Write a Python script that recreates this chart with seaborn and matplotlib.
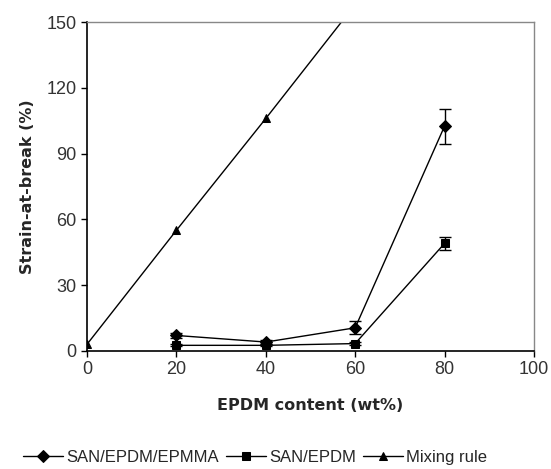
import numpy as np
import pandas as pd
import matplotlib
matplotlib.use("Agg")
import matplotlib.pyplot as plt
import seaborn as sns

# data
epdm = [20, 40, 60, 80]
epmma_vals = [7.0, 4.0, 10.5, 102.5]
epmma_err = [1.0, 1.0, 3.0, 8.0]
san_vals = [2.5, 2.5, 3.3, 49.0]
san_err = [0.5, 0.5, 0.5, 3.0]
mix_x = [0, 20, 40, 60, 80, 100]
mix_vals = [3, 55, 106, 158, 210, 262]
x_ticks = [0, 20, 40, 60, 80, 100]
y_ticks = [0, 30, 60, 90, 120, 150]

sns.set_style("ticks")
plt.rcParams['font.family'] = ['Liberation Sans', 'DejaVu Sans']

fig = plt.figure(figsize=(5.51, 4.69), dpi=100)
ax = fig.add_axes([0.158, 0.252, 0.811, 0.701])

df = pd.concat([
    pd.DataFrame({"x": epdm, "y": epmma_vals, "s": "SAN/EPDM/EPMMA"}),
    pd.DataFrame({"x": epdm, "y": san_vals, "s": "SAN/EPDM"}),
    pd.DataFrame({"x": mix_x, "y": mix_vals, "s": "Mixing rule"}),
])
sns.lineplot(data=df, x="x", y="y", hue="s", style="s",
             markers={"SAN/EPDM/EPMMA": "D", "SAN/EPDM": "s", "Mixing rule": "^"},
             dashes=False, palette={"SAN/EPDM/EPMMA": "black", "SAN/EPDM": "black", "Mixing rule": "black"},
             markersize=6, linewidth=1.0, markeredgecolor="black", ax=ax, legend=True)

ax.errorbar(epdm, epmma_vals, yerr=epmma_err, fmt="none", ecolor="black", elinewidth=1, capsize=4)
ax.errorbar(epdm, san_vals, yerr=san_err, fmt="none", ecolor="black", elinewidth=1, capsize=4)

ax.set_xlim(0, 100)
ax.set_ylim(0, 150)
ax.set_xticks(x_ticks)
ax.set_yticks(y_ticks)
ax.tick_params(axis="both", labelsize=13, colors="#333333", length=4, width=1)
ax.tick_params(axis="both", color="black")
for s in ["left", "bottom"]:
    ax.spines[s].set_color("black")
    ax.spines[s].set_linewidth(1.2)
for s in ["top", "right"]:
    ax.spines[s].set_color("#888888")
    ax.spines[s].set_linewidth(1.0)
ax.set_xlabel("EPDM content (wt%)", fontsize=11.5, fontweight="bold", family=["DejaVu Sans"], labelpad=14)
ax.set_ylabel("Strain-at-break (%)", fontsize=11.5, fontweight="bold", family=["DejaVu Sans"], labelpad=8)

handles, labels = ax.get_legend_handles_labels()
ax.legend(handles, labels, loc="center", bbox_to_anchor=(0.376, -0.325), ncol=3, frameon=False,
          fontsize=12, handlelength=2.4, handletextpad=0.2, columnspacing=0.4)

fig.savefig("out.png", dpi=100)
